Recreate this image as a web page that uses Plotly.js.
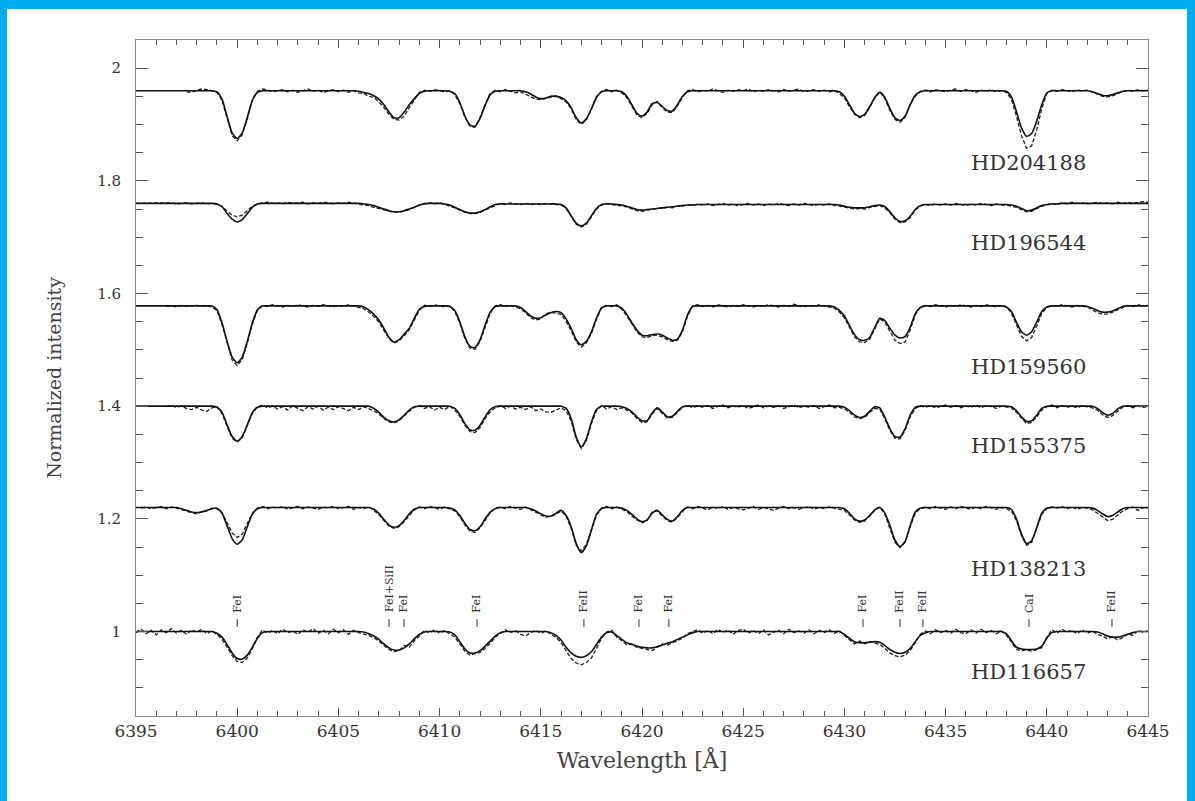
<!DOCTYPE html>
<html>
<head>
<meta charset="utf-8">
<script src="https://cdn.plot.ly/plotly-3.0.1.min.js"></script>
<style>
  html, body { margin: 0; padding: 0; background: #00AEEF; width: 1195px; height: 801px; overflow: hidden; }
  #plot { position: absolute; left: 7px; top: 9px; width: 1180px; height: 792px; background: #fff; }
</style>
</head>
<body>
<div id="plot"></div>
<script>
// Wavelength grid (Å)
const wave = [
6395,6395.25,6395.5,6395.75, 6396,6396.25,6396.5,6396.75, 6397,6397.25,6397.5,6397.75, 6398,6398.25,6398.5,6398.75, 6399,6399.25,6399.5,6399.75,
6400,6400.25,6400.5,6400.75, 6401,6401.25,6401.5,6401.75, 6402,6402.25,6402.5,6402.75, 6403,6403.25,6403.5,6403.75, 6404,6404.25,6404.5,6404.75,
6405,6405.25,6405.5,6405.75, 6406,6406.25,6406.5,6406.75, 6407,6407.25,6407.5,6407.75, 6408,6408.25,6408.5,6408.75, 6409,6409.25,6409.5,6409.75,
6410,6410.25,6410.5,6410.75, 6411,6411.25,6411.5,6411.75, 6412,6412.25,6412.5,6412.75, 6413,6413.25,6413.5,6413.75, 6414,6414.25,6414.5,6414.75,
6415,6415.25,6415.5,6415.75, 6416,6416.25,6416.5,6416.75, 6417,6417.25,6417.5,6417.75, 6418,6418.25,6418.5,6418.75, 6419,6419.25,6419.5,6419.75,
6420,6420.25,6420.5,6420.75, 6421,6421.25,6421.5,6421.75, 6422,6422.25,6422.5,6422.75, 6423,6423.25,6423.5,6423.75, 6424,6424.25,6424.5,6424.75,
6425,6425.25,6425.5,6425.75, 6426,6426.25,6426.5,6426.75, 6427,6427.25,6427.5,6427.75, 6428,6428.25,6428.5,6428.75, 6429,6429.25,6429.5,6429.75,
6430,6430.25,6430.5,6430.75, 6431,6431.25,6431.5,6431.75, 6432,6432.25,6432.5,6432.75, 6433,6433.25,6433.5,6433.75, 6434,6434.25,6434.5,6434.75,
6435,6435.25,6435.5,6435.75, 6436,6436.25,6436.5,6436.75, 6437,6437.25,6437.5,6437.75, 6438,6438.25,6438.5,6438.75, 6439,6439.25,6439.5,6439.75,
6440,6440.25,6440.5,6440.75, 6441,6441.25,6441.5,6441.75, 6442,6442.25,6442.5,6442.75, 6443,6443.25,6443.5,6443.75, 6444,6444.25,6444.5,6444.75,
6445];

const starNames = ['HD204188','HD196544','HD159560','HD155375','HD138213','HD116657'];

// Synthetic (solid) and observed (dashed) spectra, shifted vertically per star
const model_HD204188 = [
1.960,1.960,1.960,1.960, 1.960,1.960,1.960,1.960, 1.960,1.960,1.960,1.960, 1.960,1.960,1.960,1.960, 1.958,1.945,1.914,1.885,
1.875,1.885,1.913,1.943, 1.957,1.960,1.960,1.960, 1.960,1.960,1.960,1.960, 1.960,1.960,1.960,1.960, 1.960,1.960,1.960,1.960,
1.960,1.960,1.960,1.960, 1.959,1.957,1.955,1.951, 1.945,1.935,1.922,1.912, 1.912,1.922,1.935,1.946, 1.955,1.959,1.960,1.960,
1.960,1.960,1.959,1.955, 1.939,1.915,1.899,1.897, 1.911,1.934,1.953,1.959, 1.960,1.960,1.960,1.960, 1.960,1.958,1.954,1.949,
1.946,1.947,1.950,1.950, 1.948,1.942,1.930,1.912, 1.903,1.910,1.928,1.948, 1.958,1.960,1.960,1.960, 1.958,1.950,1.935,1.920,
1.915,1.922,1.937,1.939, 1.932,1.925,1.924,1.935, 1.950,1.958,1.960,1.960, 1.960,1.960,1.960,1.960, 1.960,1.960,1.960,1.960,
1.960,1.960,1.960,1.960, 1.960,1.960,1.960,1.960, 1.960,1.960,1.960,1.960, 1.960,1.960,1.960,1.960, 1.960,1.960,1.960,1.958,
1.950,1.935,1.920,1.914, 1.918,1.932,1.948,1.957, 1.948,1.928,1.912,1.907, 1.915,1.935,1.952,1.958, 1.960,1.960,1.960,1.960,
1.960,1.960,1.960,1.960, 1.960,1.960,1.960,1.960, 1.960,1.960,1.960,1.960, 1.959,1.949,1.923,1.894, 1.879,1.884,1.906,1.935,
1.956,1.960,1.960,1.960, 1.960,1.960,1.960,1.960, 1.960,1.958,1.955,1.952, 1.951,1.953,1.956,1.959, 1.960,1.960,1.960,1.960,
1.960];
const obs_HD204188 = [
null,null,null,null, null,null,null,null, null,null,1.958,1.957, 1.961,1.963,1.962,1.959, 1.957,1.943,1.910,1.880,
1.871,1.882,1.910,1.944, 1.959,1.963,1.961,1.958, 1.960,1.962,1.958,1.961, 1.957,1.960,1.963,1.959, 1.961,1.957,1.960,1.962,
1.958,1.961,1.957,1.960, 1.956,1.955,1.950,1.948, 1.940,1.930,1.918,1.909, 1.908,1.915,1.930,1.943, 1.957,1.961,1.959,1.962,
1.960,1.958,1.960,1.953, 1.937,1.913,1.897,1.895, 1.913,1.936,1.955,1.961, 1.958,1.962,1.959,1.956, 1.958,1.954,1.950,1.945,
1.944,1.946,1.948,1.951, 1.946,1.940,1.928,1.909, 1.900,1.908,1.927,1.950, 1.959,1.962,1.958,1.961, 1.956,1.948,1.932,1.917,
1.912,1.920,1.935,1.941, 1.930,1.922,1.921,1.933, 1.948,1.960,1.962,1.958, 1.961,1.959,1.963,1.960, 1.957,1.961,1.959,1.962,
1.960,1.963,1.958,1.961, 1.959,1.962,1.960,1.958, 1.962,1.959,1.961,1.963, 1.958,1.960,1.962,1.959, 1.961,1.958,1.960,1.955,
1.947,1.932,1.918,1.912, 1.916,1.930,1.947,1.958, 1.946,1.925,1.909,1.904, 1.913,1.936,1.950,1.959, 1.961,1.958,1.962,1.960,
1.958,1.961,1.963,1.959, 1.962,1.960,1.957,1.961, 1.959,1.962,1.958,1.960, 1.957,1.945,1.915,1.880, 1.858,1.862,1.890,1.928,
1.955,1.961,1.959,1.962, 1.960,1.958,1.962,1.959, 1.961,1.957,1.953,1.950, 1.949,1.951,1.955,1.958, 1.961,1.959,1.962,1.960,
1.961];

const model_HD196544 = [
1.760,1.760,1.760,1.760, 1.760,1.760,1.760,1.760, 1.760,1.760,1.760,1.760, 1.760,1.760,1.760,1.760, 1.759,1.754,1.742,1.732,
1.727,1.731,1.742,1.753, 1.759,1.760,1.760,1.760, 1.760,1.760,1.760,1.760, 1.760,1.760,1.760,1.760, 1.760,1.760,1.760,1.760,
1.760,1.760,1.760,1.760, 1.760,1.759,1.758,1.756, 1.753,1.750,1.747,1.745, 1.745,1.747,1.750,1.753, 1.757,1.759,1.760,1.760,
1.760,1.759,1.757,1.753, 1.749,1.745,1.743,1.743, 1.745,1.749,1.754,1.758, 1.759,1.759,1.759,1.759, 1.759,1.759,1.759,1.759,
1.759,1.759,1.759,1.759, 1.758,1.752,1.738,1.725, 1.720,1.725,1.738,1.751, 1.758,1.759,1.759,1.758, 1.757,1.755,1.752,1.749,
1.748,1.749,1.750,1.751, 1.752,1.753,1.754,1.755, 1.756,1.757,1.757,1.758, 1.758,1.758,1.758,1.758, 1.758,1.758,1.758,1.758,
1.758,1.758,1.758,1.758, 1.758,1.758,1.758,1.758, 1.758,1.758,1.758,1.758, 1.758,1.758,1.758,1.758, 1.758,1.758,1.758,1.757,
1.755,1.753,1.752,1.752, 1.752,1.754,1.756,1.757, 1.754,1.745,1.734,1.728, 1.729,1.737,1.749,1.756, 1.758,1.758,1.758,1.758,
1.758,1.758,1.758,1.758, 1.758,1.758,1.758,1.758, 1.758,1.758,1.758,1.758, 1.758,1.757,1.755,1.751, 1.747,1.748,1.752,1.756,
1.758,1.759,1.759,1.760, 1.760,1.760,1.760,1.760, 1.760,1.760,1.760,1.760, 1.760,1.760,1.760,1.760, 1.760,1.760,1.760,1.760,
1.760];
const obs_HD196544 = [
1.760,1.760,1.760,1.760, 1.760,1.760,1.760,1.761, 1.759,1.760,1.761,1.759, 1.760,1.761,1.759,1.760, 1.758,1.755,1.746,1.739,
1.736,1.739,1.747,1.755, 1.759,1.761,1.762,1.760, 1.761,1.759,1.762,1.760, 1.761,1.762,1.759,1.761, 1.760,1.762,1.761,1.759,
1.761,1.760,1.762,1.761, 1.759,1.757,1.756,1.753, 1.751,1.748,1.746,1.744, 1.744,1.746,1.749,1.753, 1.756,1.760,1.761,1.759,
1.761,1.758,1.756,1.752, 1.748,1.744,1.742,1.742, 1.744,1.748,1.753,1.757, 1.760,1.758,1.761,1.759, 1.758,1.760,1.757,1.760,
1.758,1.760,1.759,1.757, 1.757,1.751,1.736,1.723, 1.718,1.723,1.736,1.750, 1.757,1.760,1.758,1.757, 1.756,1.754,1.750,1.747,
1.746,1.748,1.749,1.751, 1.751,1.753,1.752,1.755, 1.755,1.758,1.756,1.759, 1.757,1.759,1.756,1.758, 1.760,1.757,1.759,1.756,
1.758,1.760,1.757,1.759, 1.756,1.759,1.757,1.760, 1.758,1.756,1.759,1.757, 1.760,1.758,1.756,1.759, 1.757,1.759,1.756,1.755,
1.753,1.751,1.750,1.751, 1.750,1.753,1.755,1.756, 1.752,1.743,1.732,1.726, 1.727,1.735,1.748,1.755, 1.758,1.756,1.759,1.757,
1.759,1.757,1.760,1.758, 1.756,1.759,1.757,1.760, 1.758,1.756,1.759,1.757, 1.757,1.755,1.753,1.749, 1.745,1.746,1.750,1.755,
1.757,1.760,1.758,1.761, 1.759,1.762,1.760,1.761, 1.759,1.761,1.762,1.760, 1.761,1.759,1.762,1.760, 1.762,1.760,1.761,1.763,
1.762];

const model_HD159560 = [
1.578,1.578,1.578,1.578, 1.578,1.578,1.578,1.578, 1.578,1.578,1.578,1.578, 1.578,1.578,1.578,1.578, 1.571,1.548,1.515,1.487,
1.477,1.487,1.515,1.548, 1.571,1.578,1.578,1.578, 1.578,1.578,1.578,1.578, 1.578,1.578,1.578,1.578, 1.578,1.578,1.578,1.578,
1.578,1.578,1.578,1.578, 1.578,1.576,1.571,1.563, 1.553,1.538,1.522,1.514, 1.518,1.528,1.538,1.556, 1.572,1.577,1.578,1.578,
1.578,1.578,1.577,1.570, 1.550,1.523,1.506,1.504, 1.518,1.544,1.567,1.577, 1.578,1.578,1.578,1.578, 1.575,1.568,1.560,1.556,
1.557,1.562,1.566,1.568, 1.566,1.555,1.538,1.518, 1.509,1.515,1.532,1.556, 1.574,1.578,1.578,1.578, 1.574,1.563,1.548,1.535,
1.526,1.525,1.527,1.528, 1.526,1.521,1.517,1.519, 1.535,1.562,1.577,1.578, 1.578,1.578,1.578,1.578, 1.578,1.578,1.578,1.578,
1.578,1.578,1.578,1.578, 1.578,1.578,1.578,1.578, 1.578,1.578,1.578,1.578, 1.578,1.578,1.578,1.578, 1.578,1.578,1.576,1.570,
1.560,1.543,1.527,1.518, 1.517,1.522,1.540,1.556, 1.552,1.538,1.526,1.521, 1.524,1.540,1.564,1.575, 1.578,1.578,1.578,1.578,
1.578,1.578,1.578,1.578, 1.578,1.578,1.578,1.578, 1.578,1.578,1.578,1.578, 1.576,1.568,1.549,1.532, 1.526,1.532,1.549,1.568,
1.576,1.578,1.578,1.578, 1.578,1.578,1.578,1.578, 1.577,1.574,1.570,1.567, 1.567,1.569,1.573,1.577, 1.578,1.578,1.578,1.578,
1.578];
const obs_HD159560 = [
null,null,null,null, null,null,1.577,1.578, 1.576,1.579,1.577,1.578, 1.579,1.577,1.578,1.576, 1.570,1.545,1.511,1.482,
1.472,1.483,1.512,1.546, 1.570,1.579,1.577,1.580, 1.578,1.576,1.579,1.577, 1.580,1.578,1.576,1.579, 1.577,1.580,1.578,1.576,
1.579,1.577,1.580,1.578, 1.576,1.573,1.567,1.559, 1.549,1.535,1.520,1.512, 1.516,1.525,1.536,1.553, 1.570,1.579,1.577,1.580,
1.578,1.576,1.578,1.568, 1.547,1.520,1.503,1.501, 1.515,1.541,1.565,1.578, 1.580,1.577,1.579,1.576, 1.573,1.566,1.557,1.553,
1.555,1.564,1.567,1.565, 1.563,1.551,1.534,1.514, 1.505,1.512,1.529,1.554, 1.575,1.579,1.577,1.580, 1.572,1.560,1.545,1.532,
1.523,1.522,1.525,1.526, 1.523,1.518,1.515,1.517, 1.532,1.560,1.578,1.580, 1.577,1.579,1.576,1.580, 1.578,1.576,1.579,1.577,
1.580,1.578,1.576,1.579, 1.577,1.580,1.578,1.576, 1.579,1.577,1.581,1.578, 1.576,1.579,1.577,1.580, 1.578,1.576,1.574,1.567,
1.557,1.540,1.523,1.514, 1.513,1.519,1.537,1.555, 1.549,1.532,1.517,1.511, 1.514,1.535,1.562,1.576, 1.579,1.577,1.580,1.578,
1.576,1.579,1.577,1.580, 1.578,1.576,1.579,1.577, 1.580,1.578,1.576,1.579, 1.577,1.565,1.543,1.524, 1.516,1.522,1.542,1.565,
1.575,1.579,1.577,1.580, 1.578,1.576,1.579,1.577, 1.576,1.571,1.566,1.563, 1.564,1.567,1.571,1.576, 1.579,1.577,1.580,1.578,
1.579];

const model_HD155375 = [
1.400,1.400,1.400,1.400, 1.400,1.400,1.400,1.400, 1.400,1.400,1.400,1.400, 1.400,1.400,1.400,1.400, 1.398,1.389,1.367,1.346,
1.338,1.346,1.367,1.389, 1.398,1.400,1.400,1.400, 1.400,1.400,1.400,1.400, 1.400,1.400,1.400,1.400, 1.400,1.400,1.400,1.400,
1.400,1.400,1.400,1.400, 1.400,1.400,1.400,1.396, 1.389,1.380,1.374,1.372, 1.376,1.384,1.393,1.399, 1.400,1.400,1.400,1.400,
1.400,1.400,1.400,1.396, 1.385,1.369,1.358,1.357, 1.366,1.381,1.394,1.399, 1.400,1.400,1.400,1.400, 1.400,1.400,1.400,1.400,
1.400,1.400,1.400,1.400, 1.400,1.396,1.378,1.345, 1.328,1.342,1.372,1.394, 1.400,1.400,1.400,1.400, 1.399,1.396,1.390,1.381,
1.374,1.374,1.388,1.397, 1.390,1.381,1.382,1.391, 1.399,1.400,1.400,1.400, 1.400,1.400,1.400,1.400, 1.400,1.400,1.400,1.400,
1.400,1.400,1.400,1.400, 1.400,1.400,1.400,1.400, 1.400,1.400,1.400,1.400, 1.400,1.400,1.400,1.400, 1.400,1.400,1.400,1.400,
1.398,1.392,1.384,1.380, 1.382,1.391,1.399,1.397, 1.380,1.360,1.346,1.345, 1.360,1.384,1.398,1.400, 1.400,1.400,1.400,1.400,
1.400,1.400,1.400,1.400, 1.400,1.400,1.400,1.400, 1.400,1.400,1.400,1.400, 1.400,1.399,1.392,1.381, 1.373,1.374,1.384,1.396,
1.400,1.400,1.400,1.400, 1.400,1.400,1.400,1.400, 1.400,1.400,1.396,1.389, 1.384,1.387,1.395,1.400, 1.400,1.400,1.400,1.400,
1.400];
const obs_HD155375 = [
null,null,null,null, null,null,1.399,1.401, 1.398,1.400,1.396,1.394, 1.398,1.393,1.391,1.397, 1.399,1.387,1.364,1.343,
1.336,1.344,1.366,1.387, 1.399,1.402,1.397,1.400, 1.395,1.399,1.393,1.401, 1.396,1.392,1.399,1.395, 1.400,1.393,1.398,1.394,
1.399,1.395,1.392,1.398, 1.394,1.399,1.396,1.392, 1.386,1.378,1.372,1.370, 1.374,1.383,1.391,1.398, 1.401,1.396,1.399,1.393,
1.398,1.394,1.400,1.393, 1.382,1.366,1.355,1.353, 1.362,1.378,1.390,1.397, 1.401,1.396,1.400,1.395, 1.398,1.394,1.399,1.392,
1.395,1.390,1.389,1.393, 1.397,1.392,1.374,1.341, 1.325,1.339,1.369,1.392, 1.401,1.395,1.399,1.394, 1.397,1.393,1.388,1.378,
1.371,1.372,1.386,1.396, 1.388,1.379,1.380,1.389, 1.398,1.402,1.397,1.401, 1.398,1.401,1.396,1.400, 1.402,1.397,1.400,1.398,
1.401,1.396,1.399,1.402, 1.397,1.400,1.398,1.401, 1.396,1.399,1.402,1.397, 1.400,1.398,1.401,1.396, 1.399,1.402,1.397,1.398,
1.395,1.389,1.381,1.378, 1.380,1.389,1.396,1.395, 1.377,1.357,1.343,1.342, 1.357,1.381,1.396,1.401, 1.398,1.401,1.397,1.400,
1.402,1.398,1.401,1.397, 1.400,1.398,1.402,1.397, 1.401,1.399,1.396,1.400, 1.398,1.397,1.389,1.378, 1.369,1.371,1.381,1.393,
1.399,1.402,1.397,1.401, 1.398,1.400,1.397,1.401, 1.399,1.397,1.393,1.385, 1.380,1.383,1.391,1.398, 1.401,1.397,1.400,1.398,
1.399];

const model_HD138213 = [
1.220,1.220,1.220,1.220, 1.220,1.220,1.220,1.220, 1.220,1.218,1.215,1.212, 1.211,1.212,1.215,1.218, 1.219,1.210,1.188,1.165,
1.155,1.163,1.186,1.208, 1.218,1.220,1.220,1.220, 1.220,1.220,1.220,1.220, 1.220,1.220,1.220,1.220, 1.220,1.220,1.220,1.220,
1.220,1.220,1.220,1.220, 1.220,1.220,1.220,1.217, 1.210,1.199,1.189,1.185, 1.188,1.197,1.209,1.217, 1.220,1.220,1.220,1.220,
1.220,1.220,1.219,1.216, 1.206,1.192,1.181,1.179, 1.186,1.200,1.212,1.218, 1.220,1.220,1.220,1.220, 1.220,1.220,1.218,1.214,
1.209,1.205,1.205,1.210, 1.215,1.206,1.186,1.156, 1.140,1.152,1.180,1.208, 1.218,1.220,1.220,1.220, 1.219,1.215,1.208,1.200,
1.195,1.198,1.210,1.215, 1.207,1.199,1.196,1.204, 1.215,1.220,1.220,1.220, 1.220,1.220,1.220,1.220, 1.220,1.220,1.220,1.220,
1.220,1.220,1.220,1.220, 1.220,1.220,1.220,1.220, 1.220,1.220,1.220,1.220, 1.220,1.220,1.220,1.220, 1.220,1.220,1.220,1.220,
1.218,1.210,1.200,1.196, 1.198,1.206,1.216,1.220, 1.210,1.188,1.162,1.151, 1.160,1.188,1.212,1.219, 1.220,1.220,1.220,1.220,
1.220,1.220,1.220,1.220, 1.220,1.220,1.220,1.220, 1.220,1.220,1.220,1.220, 1.220,1.217,1.200,1.173, 1.156,1.161,1.184,1.210,
1.219,1.220,1.220,1.220, 1.220,1.220,1.220,1.220, 1.220,1.219,1.215,1.209, 1.204,1.206,1.212,1.218, 1.220,1.220,1.220,1.220,
1.220];
const obs_HD138213 = [
null,1.219,1.221,1.218, 1.220,1.222,1.218,1.221, 1.219,1.216,1.213,1.211, 1.209,1.213,1.214,1.219, 1.218,1.211,1.193,1.175,
1.167,1.173,1.192,1.210, 1.219,1.222,1.218,1.221, 1.219,1.222,1.217,1.220, 1.222,1.218,1.221,1.219, 1.217,1.221,1.219,1.222,
1.218,1.220,1.222,1.217, 1.220,1.218,1.221,1.215, 1.207,1.197,1.187,1.183, 1.186,1.195,1.206,1.216, 1.221,1.218,1.222,1.219,
1.217,1.221,1.218,1.214, 1.204,1.189,1.178,1.176, 1.184,1.198,1.211,1.219, 1.221,1.218,1.222,1.219, 1.217,1.221,1.216,1.212,
1.207,1.203,1.204,1.208, 1.214,1.205,1.183,1.153, 1.143,1.155,1.180,1.206, 1.219,1.222,1.218,1.221, 1.217,1.213,1.205,1.198,
1.193,1.197,1.212,1.214, 1.205,1.197,1.194,1.202, 1.213,1.221,1.218,1.222, 1.219,1.216,1.221,1.218, 1.222,1.217,1.220,1.218,
1.216,1.219,1.222,1.217, 1.220,1.218,1.215,1.219, 1.222,1.218,1.220,1.217, 1.219,1.222,1.217,1.220, 1.218,1.221,1.219,1.217,
1.215,1.207,1.198,1.194, 1.196,1.205,1.215,1.221, 1.208,1.183,1.158,1.149, 1.158,1.186,1.210,1.218, 1.221,1.218,1.222,1.219,
1.217,1.221,1.218,1.222, 1.219,1.217,1.221,1.218, 1.222,1.219,1.217,1.220, 1.218,1.214,1.197,1.170, 1.153,1.158,1.182,1.208,
1.218,1.221,1.219,1.222, 1.218,1.221,1.217,1.220, 1.219,1.216,1.210,1.203, 1.197,1.199,1.207,1.214, 1.218,1.221,1.215,1.220,
1.219];

const model_HD116657 = [
1.000,1.000,1.000,1.000, 1.000,1.000,1.000,1.000, 1.000,1.000,1.000,1.000, 1.000,1.000,1.000,1.000, 0.997,0.990,0.977,0.962,
0.952,0.951,0.958,0.972, 0.988,0.998,1.000,1.000, 1.000,1.000,1.000,1.000, 1.000,1.000,1.000,1.000, 1.000,1.000,1.000,1.000,
1.000,1.000,1.000,1.000, 1.000,0.999,0.996,0.992, 0.986,0.978,0.971,0.967, 0.967,0.971,0.978,0.987, 0.995,0.999,1.000,1.000,
1.000,1.000,0.999,0.994, 0.982,0.969,0.962,0.962, 0.966,0.974,0.983,0.992, 0.998,1.000,1.000,1.000, 1.000,1.000,1.000,1.000,
1.000,1.000,0.998,0.993, 0.985,0.972,0.962,0.956, 0.954,0.957,0.964,0.977, 0.990,0.998,0.999,0.993, 0.986,0.980,0.977,0.974,
0.972,0.971,0.971,0.973, 0.976,0.979,0.982,0.986, 0.990,0.994,0.998,1.000, 1.000,1.000,1.000,1.000, 1.000,1.000,1.000,1.000,
1.000,1.000,1.000,1.000, 1.000,1.000,1.000,1.000, 1.000,1.000,1.000,1.000, 1.000,1.000,1.000,1.000, 1.000,1.000,1.000,1.000,
0.995,0.988,0.982,0.980, 0.980,0.981,0.982,0.981, 0.975,0.968,0.963,0.961, 0.963,0.970,0.982,0.993, 0.998,1.000,1.000,1.000,
1.000,1.000,1.000,1.000, 1.000,1.000,1.000,1.000, 1.000,1.000,1.000,1.000, 0.996,0.984,0.972,0.969, 0.968,0.968,0.969,0.974,
0.988,0.998,1.000,1.000, 1.000,1.000,1.000,1.000, 1.000,1.000,0.999,0.996, 0.992,0.990,0.990,0.992, 0.995,0.998,1.000,1.000,
1.000];
const obs_HD116657 = [
0.998,1.004,0.996,1.002, 0.994,1.003,0.998,1.005, 0.997,1.002,0.995,1.003, 0.999,1.004,0.996,1.001, 0.995,0.986,0.972,0.957,
0.947,0.945,0.953,0.970, 0.990,1.003,0.997,1.002, 0.996,1.004,0.998,1.001, 0.995,1.003,0.999,1.005, 0.997,1.002,0.996,1.004,
0.998,1.003,0.995,1.002, 0.998,0.996,0.993,0.989, 0.983,0.975,0.968,0.964, 0.966,0.975,0.972,0.984, 0.992,1.002,0.998,1.003,
0.997,1.002,0.996,0.990, 0.978,0.965,0.958,0.960, 0.963,0.970,0.979,0.990, 0.997,1.003,0.998,1.002, 0.995,0.992,0.998,1.002,
0.997,1.001,0.995,0.990, 0.980,0.966,0.952,0.944, 0.941,0.945,0.953,0.970, 0.988,0.999,1.002,0.990, 0.984,0.976,0.978,0.972,
0.970,0.968,0.966,0.972, 0.978,0.976,0.980,0.984, 0.988,0.996,0.999,1.003, 0.997,1.002,0.996,1.004, 0.998,1.003,0.995,1.002,
1.004,0.997,1.002,0.996, 1.003,0.994,0.999,1.002, 0.996,1.004,0.998,1.001, 0.997,1.003,0.996,1.002, 0.998,1.003,0.997,1.001,
0.993,0.985,0.978,0.983, 0.978,0.982,0.979,0.977, 0.970,0.962,0.957,0.955, 0.958,0.966,0.980,0.995, 1.001,0.996,1.003,0.998,
1.002,0.997,1.004,0.998, 0.996,1.003,0.997,1.004, 0.998,1.002,0.996,1.001, 0.994,0.980,0.968,0.966, 0.967,0.965,0.968,0.971,
0.990,1.003,0.997,1.004, 0.999,1.002,0.996,1.003, 0.997,1.001,0.995,0.992, 0.987,0.991,0.985,0.989, 0.996,0.993,1.002,0.999,
1.001];

// Line identifications (marked above the bottom spectrum)
const lineWaves  = [6400.0, 6407.5, 6408.24, 6411.85, 6417.13, 6419.85, 6421.33, 6430.92, 6432.75, 6433.88, 6439.12, 6443.22];
const lineLabels = ['FeI','FeI+SiII','FeI','FeI','FeII','FeI','FeI','FeI','FeII','FeII','CaI','FeII'];

// ----- build -----
const models = [model_HD204188, model_HD196544, model_HD159560, model_HD155375, model_HD138213, model_HD116657];
const observed = [obs_HD204188, obs_HD196544, obs_HD159560, obs_HD155375, obs_HD138213, obs_HD116657];
const nameX = 6439.1;
const nameY = [1.831, 1.690, 1.470, 1.329, 1.111, 0.929];

const traces = [];
models.forEach((m, k) => {
  traces.push({
    x: wave, y: observed[k], type: 'scatter', mode: 'lines', name: starNames[k] + ' observed',
    line: {color: '#222', width: 1.3, dash: '4px,2px'}, connectgaps: false, hoverinfo: 'skip'
  });
  traces.push({
    x: wave, y: m, type: 'scatter', mode: 'lines', name: starNames[k] + ' synthetic',
    line: {color: '#111', width: 1.6, shape: 'spline', smoothing: 0.6}, hoverinfo: 'skip'
  });
});

// short tick marks for the line identifications
const tx = [], ty = [];
lineWaves.forEach(w => { tx.push(w, w, null); ty.push(1.008, 1.022, null); });
traces.push({x: tx, y: ty, type: 'scatter', mode: 'lines', line: {color: '#333', width: 1}, hoverinfo: 'skip'});

const annotations = [];
starNames.forEach((n, k) => {
  annotations.push({x: nameX, y: nameY[k], xref: 'x', yref: 'y', text: n, showarrow: false,
    xanchor: 'center', yanchor: 'middle', font: {family: 'DejaVu Serif', size: 21, color: '#333'}});
});
lineWaves.forEach((w, k) => {
  annotations.push({x: w, y: 1.030, xref: 'x', yref: 'y', text: lineLabels[k], showarrow: false,
    textangle: -90, xanchor: 'center', yanchor: 'bottom', font: {family: 'DejaVu Serif', size: 11, color: '#333'}});
});

const layout = {
  width: 1180, height: 792,
  margin: {l: 129, r: 39, t: 31, b: 85},
  paper_bgcolor: '#ffffff', plot_bgcolor: '#ffffff',
  showlegend: false,
  font: {family: 'DejaVu Serif', color: '#333'},
  xaxis: {
    range: [6395, 6445], dtick: 5, tick0: 6395, ticks: 'inside', ticklen: 8, tickwidth: 1, tickcolor: '#555',
    showline: true, linecolor: '#888', linewidth: 1, mirror: 'ticks', showgrid: false, zeroline: false,
    minor: {ticks: 'inside', dtick: 1, ticklen: 5, tickcolor: '#555', showgrid: false},
    tickfont: {family: 'DejaVu Serif', size: 17, color: '#333'}, ticklabelstandoff: 0,
    title: {text: 'Wavelength [Å]', font: {family: 'DejaVu Serif', size: 22, color: '#444'}, standoff: 12}
  },
  yaxis: {
    range: [0.85, 2.05], dtick: 0.2, tick0: 1, ticks: 'inside', ticklen: 12, tickwidth: 1, tickcolor: '#555',
    showline: true, linecolor: '#888', linewidth: 1, mirror: 'ticks', showgrid: false, zeroline: false,
    minor: {ticks: 'inside', dtick: 0.05, ticklen: 7, tickcolor: '#555', showgrid: false},
    tickfont: {family: 'DejaVu Serif', size: 15, color: '#333'}, ticklabelstandoff: 11,
    title: {text: 'Normalized intensity', font: {family: 'DejaVu Serif', size: 19, color: '#444'}, standoff: 30}
  },
  annotations: annotations
};

Plotly.newPlot('plot', traces, layout, {displayModeBar: false, staticPlot: true});
</script>
</body>
</html>
